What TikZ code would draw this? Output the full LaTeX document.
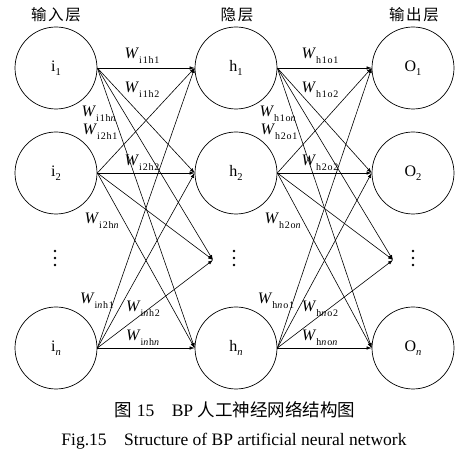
\documentclass[tikz,border=0pt]{standalone}
\usepackage{fontspec}
\setmainfont{Liberation Serif}
\newfontfamily\cjk{Noto Sans CJK SC}
\usetikzlibrary{arrows.meta}
\newcommand{\Wlab}[1]{\textit{W}\raisebox{-4.5pt}{\fontsize{10}{11}\selectfont\addfontfeature{LetterSpace=8} #1}}
\newcommand{\Nlab}[2]{#1\raisebox{-3.5pt}{\fontsize{10.5}{11}\selectfont #2}}
\begin{document}
\begin{tikzpicture}[x=1pt,y=-1pt,
  neuron/.style={circle,draw,line width=0.7pt,minimum size=82pt,inner sep=0pt,font=\fontsize{16}{18}\selectfont},
  conn/.style={line width=0.6pt,-{Latex[length=5pt,width=3.5pt]}},
  wlab/.style={font=\fontsize{16}{18}\selectfont,inner sep=0pt},
  head/.style={font=\cjk\fontsize{15.5}{17}\selectfont\addfontfeature{LetterSpace=10},inner sep=0pt},
  dotsv/.style={fill,circle,inner sep=0pt,minimum size=2.6pt},
  captext/.style={font=\fontsize{17.5}{20}\selectfont,inner sep=0pt}]
\useasboundingbox (0,0) rectangle (472,462);
\fill[white] (0,0) rectangle (472,462);
% headers
\node[head] (hin) at (56,15) {输入层};
\node[head] (hhid) at (237,15) {隐层};
\node[head] (hout) at (414,15) {输出层};
% neurons
\node[neuron] (i1) at (56,68) {\Nlab{i}{1}};
\node[neuron] (i2) at (56,173) {\Nlab{i}{2}};
\node[neuron] (in) at (56,348) {\Nlab{i}{\textit{n}}};
\node[neuron] (h1) at (236,68) {\Nlab{h}{1}};
\node[neuron] (h2) at (236,173) {\Nlab{h}{2}};
\node[neuron] (hn) at (236,348) {\Nlab{h}{\textit{n}}};
\node[neuron] (o1) at (413,68) {\Nlab{O}{1}};
\node[neuron] (o2) at (413,173) {\Nlab{O}{2}};
\node[neuron] (on) at (413,348) {\Nlab{O}{\textit{n}}};
% vertical dots
\foreach \nm/\x in {di/55,dh/234,do/413}{
  \node[dotsv] (\nm a) at (\x,251) {};
  \node[dotsv] (\nm b) at (\x,258) {};
  \node[dotsv] (\nm c) at (\x,265) {};
}
\coordinate (th) at (213,260);
\coordinate (to) at (393,260);
% input -> hidden
\foreach \s in {i1,i2,in}{
  \draw[conn] (\s.east) -- (h1.west);
  \draw[conn] (\s.east) -- (h2.west);
  \draw[conn] (\s.east) -- (th);
  \draw[conn] (\s.east) -- (hn.west);
}
% hidden -> output
\foreach \s in {h1,h2,hn}{
  \draw[conn] (\s.east) -- (o1.west);
  \draw[conn] (\s.east) -- (o2.west);
  \draw[conn] (\s.east) -- (to);
  \draw[conn] (\s.east) -- (on.west);
}
% weight labels left
\node[wlab] (w11) at (142,56) {\Wlab{i1h1}};
\node[wlab] (w12) at (142,90) {\Wlab{i1h2}};
\node[wlab] (w1n) at (99,114) {\Wlab{i1h\textit{n}}};
\node[wlab] (w21) at (100,132) {\Wlab{i2h1}};
\node[wlab] (w22) at (142,163) {\Wlab{i2h2}};
\node[wlab] (w2n) at (102,221) {\Wlab{i2h\textit{n}}};
\node[wlab] (wn1) at (97,301) {\Wlab{i\textit{n}h1}};
\node[wlab] (wn2) at (143,309) {\Wlab{i\textit{n}h2}};
\node[wlab] (wnn) at (143,338) {\Wlab{i\textit{n}h\textit{n}}};
% weight labels right
\node[wlab] (v11) at (320,56) {\Wlab{h1o1}};
\node[wlab] (v12) at (320,90) {\Wlab{h1o2}};
\node[wlab] (v1n) at (278,114) {\Wlab{h1o\textit{n}}};
\node[wlab] (v21) at (279,132) {\Wlab{h2o1}};
\node[wlab] (v22) at (320,163) {\Wlab{h2o2}};
\node[wlab] (v2n) at (283,221) {\Wlab{h2o\textit{n}}};
\node[wlab] (vn1) at (276,301) {\Wlab{h\textit{n}o1}};
\node[wlab] (vn2) at (320,309) {\Wlab{h\textit{n}o2}};
\node[wlab] (vnn) at (320,338) {\Wlab{h\textit{n}o\textit{n}}};
% captions
\node[captext] (c1) at (235,410) {{\cjk 图} 15\hspace{1em}BP {\cjk 人工神经网络结构图}};
\node[captext] (c2) at (234,441) {Fig.15\hspace{1em}Structure of BP artificial neural network};
\end{tikzpicture}
\end{document}
